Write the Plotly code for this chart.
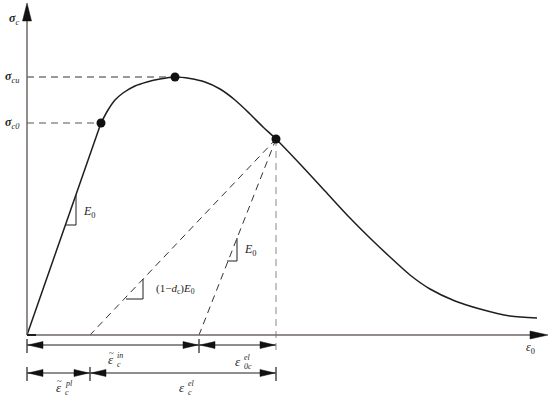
import plotly.graph_objects as go

# ---------------- schematic data (strain / stress units) ----------------
lin_strain = [0, 74]
lin_stress = [0, 212]
curve_strain = [74, 81, 88, 96, 108, 120, 133, 148, 163, 178, 193, 208, 223, 236,
                249, 273, 298, 323, 345, 363, 383, 403, 428, 453, 483, 510]
curve_stress = [212, 225, 235, 242, 249, 253, 256, 258, 256.5, 253, 246, 235, 221, 208,
                196, 171, 144, 117, 95, 78, 60, 46, 34, 26, 19, 17]
key_strain = [74, 148, 249]          # sigma_c0, sigma_cu, unloading point
key_stress = [212, 258, 196]
eps_pl = 63                           # plastic strain (damaged unloading intercept)
eps_in = 172                          # inelastic strain (E0 unloading intercept)
axis_x_end = 521
axis_y_end = 332
row1_y = -10
row2_y = -38

FONT = "Liberation Serif"
INK = "#1e1e1e"

fig = go.Figure()

# stress-strain curve
fig.add_trace(go.Scatter(x=lin_strain, y=lin_stress, mode="lines",
                         line=dict(color=INK, width=1.5), hoverinfo="skip"))
fig.add_trace(go.Scatter(x=curve_strain, y=curve_stress, mode="lines",
                         line=dict(color=INK, width=1.5, shape="spline", smoothing=0.8),
                         hoverinfo="skip"))

# dashed guide lines
dash = "7px,5px"
fig.add_trace(go.Scatter(x=[0, key_strain[1]], y=[key_stress[1]] * 2, mode="lines",
                         line=dict(color="#333", width=1, dash=dash), hoverinfo="skip"))
fig.add_trace(go.Scatter(x=[0, key_strain[0]], y=[key_stress[0]] * 2, mode="lines",
                         line=dict(color="#555", width=1, dash=dash), hoverinfo="skip"))
fig.add_trace(go.Scatter(x=[key_strain[2], eps_pl], y=[key_stress[2], 0], mode="lines",
                         line=dict(color="#333", width=1, dash=dash), hoverinfo="skip"))
fig.add_trace(go.Scatter(x=[key_strain[2], eps_in], y=[key_stress[2], 0], mode="lines",
                         line=dict(color="#333", width=1, dash=dash), hoverinfo="skip"))
fig.add_trace(go.Scatter(x=[key_strain[2], key_strain[2]], y=[key_stress[2], row1_y - 8],
                         mode="lines", line=dict(color="#888", width=1, dash=dash),
                         hoverinfo="skip"))

# key points
fig.add_trace(go.Scatter(x=key_strain, y=key_stress, mode="markers",
                         marker=dict(color="#111", size=9), hoverinfo="skip"))

shapes = []
AX = "#6e6666"
# axes lines
shapes.append(dict(type="line", x0=0, y0=0, x1=axis_x_end - 16, y1=0,
                   line=dict(color=AX, width=1.5)))
shapes.append(dict(type="line", x0=0, y0=0, x1=0, y1=axis_y_end - 16,
                   line=dict(color=AX, width=1.5)))
shapes.append(dict(type="line", x0=0, y0=0, x1=9, y1=0, line=dict(color=INK, width=2)))


def tri_path(tip_x, tip_y, direction, length, half):
    if direction == "right":
        pts = [(tip_x, tip_y), (tip_x - length, tip_y + half), (tip_x - length, tip_y - half)]
    elif direction == "left":
        pts = [(tip_x, tip_y), (tip_x + length, tip_y + half), (tip_x + length, tip_y - half)]
    else:  # up
        pts = [(tip_x, tip_y), (tip_x - half, tip_y - length), (tip_x + half, tip_y - length)]
    return "M {} {} L {} {} L {} {} Z".format(*[v for p in pts for v in p])


shapes.append(dict(type="path", path=tri_path(axis_x_end, 0, "right", 18, 4),
                   fillcolor="#111", line=dict(color="#111", width=0.5)))
shapes.append(dict(type="path", path=tri_path(0, axis_y_end, "up", 18, 4.5),
                   fillcolor="#111", line=dict(color="#111", width=0.5)))

# dimension lines
rows = [(row1_y, [(0, eps_in), (eps_in, key_strain[2])]),
        (row2_y, [(0, eps_pl), (eps_pl, key_strain[2])])]
for ry, segs in rows:
    for a, b in segs:
        shapes.append(dict(type="line", x0=a, y0=ry, x1=b, y1=ry,
                           line=dict(color=INK, width=1.2)))
        shapes.append(dict(type="path", path=tri_path(a + 1, ry, "left", 15, 3.5),
                           fillcolor="#111", line=dict(color="#111", width=0.5)))
        shapes.append(dict(type="path", path=tri_path(b - 1, ry, "right", 15, 3.5),
                           fillcolor="#111", line=dict(color="#111", width=0.5)))
    ticks = sorted({p for s in segs for p in s})
    for t in ticks:
        if ry == row1_y and t == key_strain[2]:
            continue
        shapes.append(dict(type="line", x0=t, y0=ry + 6, x1=t, y1=ry - 8,
                           line=dict(color=INK, width=1.2)))

# slope indicator triangles
slope_tris = [((39, 110), 10, 30), ((99, 36), 17, 20), ((200, 74), 10, 23)]
for (x0, y0), w, h in slope_tris:
    shapes.append(dict(type="path",
                       path="M {} {} L {} {} L {} {}".format(x0, y0, x0 + w, y0, x0 + w, y0 + h),
                       line=dict(color=INK, width=1)))

fig.update_layout(shapes=shapes)

ann = []


def label(x, y, html, size=12, anchor="center"):
    ann.append(dict(x=x, y=y, text=html, showarrow=False, xanchor=anchor, yanchor="middle",
                    font=dict(family=FONT, size=size, color=INK)))


def stacked(x, y, base, sub, sup, tilde=False, size=13):
    ann.append(dict(x=x, y=y, text="<i>" + base + "</i>", showarrow=False, xanchor="right",
                    yanchor="middle", font=dict(family=FONT, size=size, color=INK)))
    if tilde:
        ann.append(dict(x=x, y=y, text="~", showarrow=False, xanchor="right",
                        yanchor="middle", xshift=0, yshift=6,
                        font=dict(family=FONT, size=9, color=INK)))
    ann.append(dict(x=x, y=y, text="<i>" + sup + "</i>", showarrow=False, xanchor="left",
                    yanchor="middle", xshift=-1, yshift=4, font=dict(family=FONT, size=8, color=INK)))
    ann.append(dict(x=x, y=y, text="<i>" + sub + "</i>", showarrow=False, xanchor="left",
                    yanchor="middle", xshift=-1, yshift=-5, font=dict(family=FONT, size=8, color=INK)))


label(-13, 316, "<b><i>σ</i></b><sub><i>c</i></sub>")
label(-15, key_stress[1], "<b><i>σ</i></b><sub><i>cu</i></sub>")
label(-15, key_stress[0], "<b><i>σ</i></b><sub><i>c0</i></sub>")
label(54, 123, "<i>E</i><sub>0</sub>", anchor="left")
label(127, 46, "(1−<i>d</i><sub>c</sub>)<i>E</i><sub>0</sub>", size=11, anchor="left")
label(215, 85, "<i>E</i><sub>0</sub>", anchor="left")
label(503, -13, "<i>ε</i><sub>0</sub>")

stacked(89, -24, "ε", "c", "in", tilde=True)
stacked(216, -26, "ε", "0c", "el")
stacked(37, -52, "ε", "c", "pl", tilde=True)
stacked(160, -52, "ε", "c", "el")

fig.update_layout(
    annotations=ann,
    width=550, height=398,
    margin=dict(l=0, r=0, t=0, b=0),
    paper_bgcolor="white", plot_bgcolor="white",
    showlegend=False,
    xaxis=dict(range=[-27, 523], visible=False, fixedrange=True),
    yaxis=dict(range=[-63, 335], visible=False, fixedrange=True),
)

fig.write_html("out.html", config={"displayModeBar": False},
               post_script="document.body.style.margin='0';"
                           "document.body.style.overflow='hidden';")
